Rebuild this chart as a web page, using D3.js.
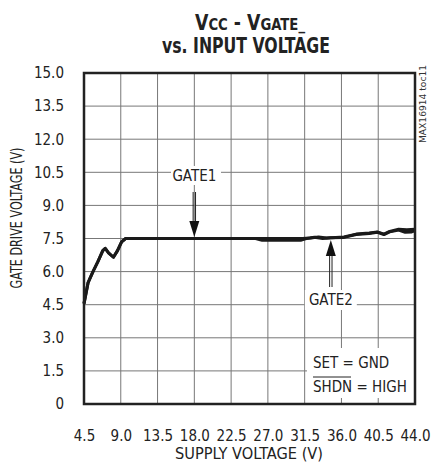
<!DOCTYPE html>
<html><head><meta charset="utf-8">
<script src="https://cdn.jsdelivr.net/npm/d3@7"></script>
<style>
body{margin:0;background:#fff;}
text{font-family:"Liberation Sans Narrow","DejaVu Sans Condensed","Roboto Condensed",Roboto,sans-serif;font-stretch:condensed;}
</style></head>
<body>
<svg id="c" width="431" height="462"></svg>
<script>
// x grid positions are evenly spaced in the reference; the last one is labelled "44.0"
const xTicks = [4.5, 9.0, 13.5, 18.0, 22.5, 27.0, 31.5, 36.0, 40.5, 45.0];
const xTickLabels = ["4.5","9.0","13.5","18.0","22.5","27.0","31.5","36.0","40.5","44.0"];
const yTicks = [0, 1.5, 3.0, 4.5, 6.0, 7.5, 9.0, 10.5, 12.0, 13.5, 15.0];
const yTickLabels = ["0","1.5","3.0","4.5","6.0","7.5","9.0","10.5","12.0","13.5","15.0"];

const gate1V = [4.5, 5.0, 5.6, 6.2, 6.8, 7.1, 7.5, 8.1, 8.6, 9.1, 9.6, 25.5, 31.2, 32.2, 33.2, 34.2, 35.3, 36.3, 37.8, 39.4, 40.4, 41.2, 41.9, 43.0, 44.0, 45.0];
const gate1 = [4.55, 5.5, 6.0, 6.45, 6.95, 7.05, 6.85, 6.65, 6.95, 7.35, 7.5, 7.5, 7.5, 7.52, 7.57, 7.52, 7.55, 7.57, 7.7, 7.75, 7.8, 7.7, 7.82, 7.92, 7.9, 7.92];
const gate2V = [4.5, 5.0, 5.6, 6.2, 6.8, 7.1, 7.5, 8.1, 8.6, 9.1, 9.6, 25.5, 26.3, 31.0, 31.7, 32.7, 33.7, 34.7, 36.3, 37.8, 39.4, 40.4, 41.2, 41.9, 43.0, 43.8, 44.6, 45.0];
const gate2 = [4.55, 5.5, 6.0, 6.45, 6.95, 7.05, 6.85, 6.65, 6.95, 7.35, 7.5, 7.5, 7.42, 7.42, 7.5, 7.56, 7.5, 7.53, 7.55, 7.68, 7.73, 7.78, 7.68, 7.8, 7.88, 7.78, 7.8, 7.86];

const L = 84, R = 415, T = 73, B = 404;
const svg = d3.select("#c");
const x = d3.scaleLinear().domain([4.5, 45.0]).range([L, R]);
const y = d3.scaleLinear().domain([0, 15]).range([B, T]);
const ink = "#222";

// grid
const g = svg.append("g");
g.selectAll("line.vx").data(xTicks.slice(1, -1)).join("line")
  .attr("x1", d => x(d)).attr("x2", d => x(d)).attr("y1", T).attr("y2", B)
  .attr("stroke", "#777").attr("stroke-width", 1);
g.selectAll("line.hy").data(yTicks.slice(1, -1)).join("line")
  .attr("x1", L).attr("x2", R).attr("y1", d => y(d)).attr("y2", d => y(d))
  .attr("stroke", "#777").attr("stroke-width", 1);

// axes (labels only)
const xAxis = d3.axisBottom(x).tickValues(xTicks).tickFormat((d, i) => xTickLabels[i]).tickSize(0).tickPadding(26);
const ax = svg.append("g").attr("transform", `translate(0,${B})`).call(xAxis);
ax.select(".domain").remove();
ax.attr("font-family", null);
ax.selectAll("text").attr("font-size", 15).attr("fill", ink);
const yAxis = d3.axisLeft(y).tickValues(yTicks).tickFormat((d, i) => yTickLabels[i]).tickSize(0).tickPadding(20);
const ay = svg.append("g").attr("transform", `translate(${L},0)`).call(yAxis);
ay.select(".domain").remove();
ay.attr("font-family", null);
ay.selectAll("text").attr("font-size", 15).attr("fill", ink);

// label boxes (white backgrounds)
svg.append("rect").attr("x", 171).attr("y", 166).attr("width", 50).attr("height", 19).attr("fill", "#fff");
svg.append("rect").attr("x", x(34.7) - 26).attr("y", 290).attr("width", 52).attr("height", 20).attr("fill", "#fff");
svg.append("rect").attr("x", 307).attr("y", 348).attr("width", 108).attr("height", 50).attr("fill", "#fff");

// curves
const line = d3.line().x(d => x(d[0])).y(d => y(d[1])).curve(d3.curveLinear);
svg.append("path").datum(gate2V.map((v, i) => [v, gate2[i]]))
  .attr("d", line).attr("fill", "none").attr("stroke", "#1a1a1a").attr("stroke-width", 3).attr("stroke-linejoin", "round");
svg.append("path").datum(gate1V.map((v, i) => [v, gate1[i]]))
  .attr("d", line).attr("fill", "none").attr("stroke", "#1a1a1a").attr("stroke-width", 3).attr("stroke-linejoin", "round");

// border
svg.append("rect").attr("x", L).attr("y", T).attr("width", R - L).attr("height", B - T)
  .attr("fill", "none").attr("stroke", ink).attr("stroke-width", 2.5);

// arrows
function arrow(xv, y0, tip, dir) {
  const xp = x(xv);
  const head = 16;
  const base = tip - dir * head;
  svg.append("line").attr("x1", xp - 1.2).attr("x2", xp - 1.2).attr("y1", y0).attr("y2", base).attr("stroke", ink).attr("stroke-width", 1);
  svg.append("line").attr("x1", xp + 1.2).attr("x2", xp + 1.2).attr("y1", y0).attr("y2", base).attr("stroke", ink).attr("stroke-width", 1);
  svg.append("path").attr("d", `M${xp - 5},${base}L${xp + 5},${base}L${xp},${tip}Z`).attr("fill", "#111");
}
arrow(18.0, 192, 237, 1);
arrow(34.7, 287, 240, -1);

svg.append("text").attr("x", x(18.0)).attr("y", 181).attr("text-anchor", "middle").attr("font-size", 15).attr("fill", ink).text("GATE1");
svg.append("text").attr("x", x(34.7)).attr("y", 305).attr("text-anchor", "middle").attr("font-size", 15).attr("fill", ink).text("GATE2");
svg.append("text").attr("x", 313).attr("y", 368).attr("font-size", 15).attr("fill", ink).text("SET = GND");
svg.append("text").attr("x", 313).attr("y", 392).attr("font-size", 15).attr("fill", ink).text("SHDN = HIGH");
svg.append("line").attr("x1", 313).attr("x2", 351).attr("y1", 377).attr("y2", 377).attr("stroke", ink).attr("stroke-width", 1);

// axis titles
svg.append("text").attr("x", 249).attr("y", 459).attr("text-anchor", "middle").attr("font-size", 15).attr("fill", ink)
  .attr("textLength", 148).attr("lengthAdjust", "spacingAndGlyphs").text("SUPPLY VOLTAGE (V)");
svg.append("text").attr("transform", "translate(22,218) rotate(-90)").attr("text-anchor", "middle").attr("font-size", 15).attr("fill", ink)
  .attr("textLength", 141).attr("lengthAdjust", "spacingAndGlyphs").text("GATE DRIVE VOLTAGE (V)");

// watermark
svg.append("text").attr("transform", "translate(426,104) rotate(-90)").attr("text-anchor", "middle").attr("font-size", 9.5).attr("fill", "#333")
  .attr("textLength", 78).attr("lengthAdjust", "spacingAndGlyphs").text("MAX16914 toc11");

// title
const t1 = svg.append("text").attr("x", 250).attr("y", 30).attr("text-anchor", "middle").attr("font-size", 21).attr("font-weight", "bold").attr("fill", ink)
  .attr("textLength", 110).attr("lengthAdjust", "spacingAndGlyphs");
t1.append("tspan").text("V");
t1.append("tspan").attr("font-size", 16).text("CC");
t1.append("tspan").text(" - V");
t1.append("tspan").attr("font-size", 16).text("GATE_");
svg.append("text").attr("x", 246).attr("y", 53).attr("text-anchor", "middle").attr("font-size", 21).attr("font-weight", "bold").attr("fill", ink)
  .attr("textLength", 168).attr("lengthAdjust", "spacingAndGlyphs").text("vs. INPUT VOLTAGE");
</script>
</body></html>
